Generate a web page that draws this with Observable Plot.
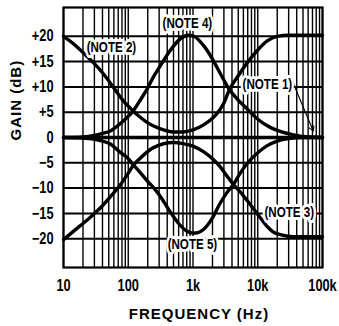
<!DOCTYPE html>
<html>
<head>
<meta charset="utf-8">
<script src="https://cdn.jsdelivr.net/npm/d3@7"></script>
<script src="https://cdn.jsdelivr.net/npm/@observablehq/plot@0.6"></script>
<style>
  html, body { margin: 0; padding: 0; background: #fff; }
  #chart svg { display: block; }
</style>
</head>
<body>
<div id="chart"></div>
<script>
// ---- Tick labels ----
const freqTicks = [10, 100, 1000, 10000, 100000];
const freqTickLabels = ["10", "100", "1k", "10k", "100k"];
const gainTicks = [-20, -15, -10, -5, 0, 5, 10, 15, 20];
const gainTickLabels = ["\u221220", "\u221215", "\u221210", "\u22125", "0", "+5", "+10", "+15", "+20"];

// ---- Series (frequency in Hz, gain in dB) ----
const note1Freq = [10, 100000];
const note1Gain = [0, 0];

const note2Freq = [10, 15, 20, 30, 40, 60, 80, 100, 120, 150, 200, 300, 500, 700, 1000, 1500, 2000, 2600, 3000, 3600, 5000, 7000, 10000, 14000, 20000, 30000, 100000];
const note2Gain = [20, 18.3, 16.8, 14.6, 12.8, 9.8, 7.6, 6.2, 5.2, 4.1, 2.9, 1.8, 1.1, 1.1, 1.5, 2.6, 3.8, 5.5, 6.8, 9.3, 12.2, 14.9, 17.3, 19.1, 20, 20.2, 20.2];

const note3Freq = [10, 15, 20, 29, 40, 53, 76, 97, 120, 150, 245, 500, 700, 1000, 1450, 2000, 2600, 3300, 4200, 5400, 7000, 10000, 14000, 17000, 24000, 35000, 100000];
const note3Gain = [-20.2, -18.3, -17.0, -15.2, -13.5, -11.7, -9.3, -7.3, -5.5, -4.2, -2.0, -1.0, -1.2, -1.7, -2.8, -4.2, -5.7, -7.5, -9.3, -10.8, -12.6, -15.2, -17.6, -18.6, -19.3, -19.6, -19.6];

const note4Freq = [10, 20, 30, 40, 53, 76, 97, 120, 150, 200, 245, 300, 450, 600, 850, 1000, 1450, 2000, 2600, 3600, 5000, 6900, 10000, 15600, 20000, 31000, 50000, 100000];
const note4Gain = [0, 0.1, 0.4, 0.8, 1.3, 2.8, 4.0, 5.3, 7.2, 9.8, 12.0, 13.8, 17.3, 19.2, 20.2, 20.1, 18.2, 15.5, 12.8, 9.6, 7.4, 5.6, 3.6, 2.0, 1.4, 0.7, 0.2, 0];

const note5Freq = [10, 20, 29, 40, 53, 76, 97, 120, 150, 200, 245, 300, 450, 600, 800, 1000, 1200, 1450, 2000, 2600, 3300, 4200, 5400, 7000, 10000, 14000, 20000, 30000, 50000, 100000];
const note5Gain = [0, -0.1, -0.3, -0.7, -1.3, -3.0, -4.0, -5.4, -6.8, -8.7, -9.9, -11.3, -14.8, -17.0, -18.5, -18.9, -18.8, -18.2, -15.9, -13.1, -11.0, -9.3, -7.0, -5.0, -3.0, -1.6, -0.7, -0.2, 0, 0];

// ---- Annotations ----
const noteLabels = ["(NOTE 1)", "(NOTE 2)", "(NOTE 3)", "(NOTE 4)", "(NOTE 5)"];
const noteLabelFreq = [14100, 55, 30700, 820, 980];
const noteLabelGain = [10.6, 17.9, -14.75, 22.5, -21.1];
const arrowFrom = {f: 33000, g: 11.6};
const arrowTo = {f: 72000, g: 1.3};

// ---- Build tables ----
const seriesList = [
  ["1", note1Freq, note1Gain],
  ["2", note2Freq, note2Gain],
  ["3", note3Freq, note3Gain],
  ["4", note4Freq, note4Gain],
  ["5", note5Freq, note5Gain]
];
const curves = seriesList.flatMap(([note, fs, gs]) => fs.map((f, i) => ({note, f, g: gs[i]})));
const labels = noteLabels.map((t, i) => ({t, f: noteLabelFreq[i], g: noteLabelGain[i]}));
const xGrid = d3.scaleLog().domain([10, 100000]).ticks();
const freqLabel = new Map(freqTicks.map((d, i) => [d, freqTickLabels[i]]));
const gainLabel = new Map(gainTicks.map((d, i) => [d, gainTickLabels[i]]));

const font = "'Liberation Sans', Arial, sans-serif";

const chart = Plot.plot({
  width: 339,
  height: 326,
  marginLeft: 63,
  marginRight: 17,
  marginTop: 7,
  marginBottom: 59,
  x: {type: "log", domain: [10, 100000]},
  y: {domain: [-25.7, 25.7]},
  style: {background: "white", color: "black", fontFamily: font},
  marks: [
    Plot.ruleX(xGrid, {stroke: "black", strokeWidth: 1.4}),
    Plot.ruleY(gainTicks.filter(d => d !== 0), {stroke: "black", strokeWidth: 2}),
    Plot.frame({stroke: "black", strokeWidth: 2.2}),
    Plot.line(curves, {x: "f", y: "g", z: "note", stroke: "black", strokeWidth: 3.4, curve: "monotone-x"}),
    Plot.arrow([0], {x1: () => arrowFrom.f, y1: () => arrowFrom.g, x2: () => arrowTo.f, y2: () => arrowTo.g, stroke: "black", strokeWidth: 1.1, headLength: 7}),
    Plot.text(labels, {x: "f", y: "g", text: "t", fill: "black", stroke: "white", strokeWidth: 6, fontSize: 14.5, fontWeight: "bold", fontFamily: font}),
    Plot.axisX(freqTicks, {tickSize: 0, tickPadding: 12, tickFormat: d => freqLabel.get(d), fontSize: 16, fontWeight: "bold", fontFamily: font, label: null}),
    Plot.axisY(gainTicks, {tickSize: 0, tickPadding: 10, tickFormat: d => gainLabel.get(d), fontSize: 16, fontWeight: "bold", fontFamily: font, label: null}),
    Plot.text(["GAIN (dB)"], {frameAnchor: "left", dx: -47, dy: 3, rotate: -90, fontSize: 15, fontWeight: "bold", fontFamily: font, fill: "black"}),
    Plot.text(["FREQUENCY (Hz)"], {frameAnchor: "bottom", dx: 6, dy: 51, fontSize: 15, fontWeight: "bold", fontFamily: font, fill: "black"})
  ]
});
// Condensed look for tick and note labels (narrow font not installed)
chart.querySelectorAll("text").forEach(t => {
  const s = t.textContent;
  if (s === "GAIN (dB)" || s === "FREQUENCY (Hz)") {
    t.setAttribute("letter-spacing", "1");
    return;
  }
  const tr = t.getAttribute("transform");
  if (tr) {
    t.setAttribute("transform", tr + " scale(0.8,1)");
  } else {
    const x = t.getAttribute("x") || 0, y = t.getAttribute("y") || 0;
    t.removeAttribute("x"); t.removeAttribute("y");
    t.setAttribute("transform", `translate(${x},${y}) scale(0.8,1)`);
  }
});
document.getElementById("chart").appendChild(chart);
</script>
</body>
</html>
